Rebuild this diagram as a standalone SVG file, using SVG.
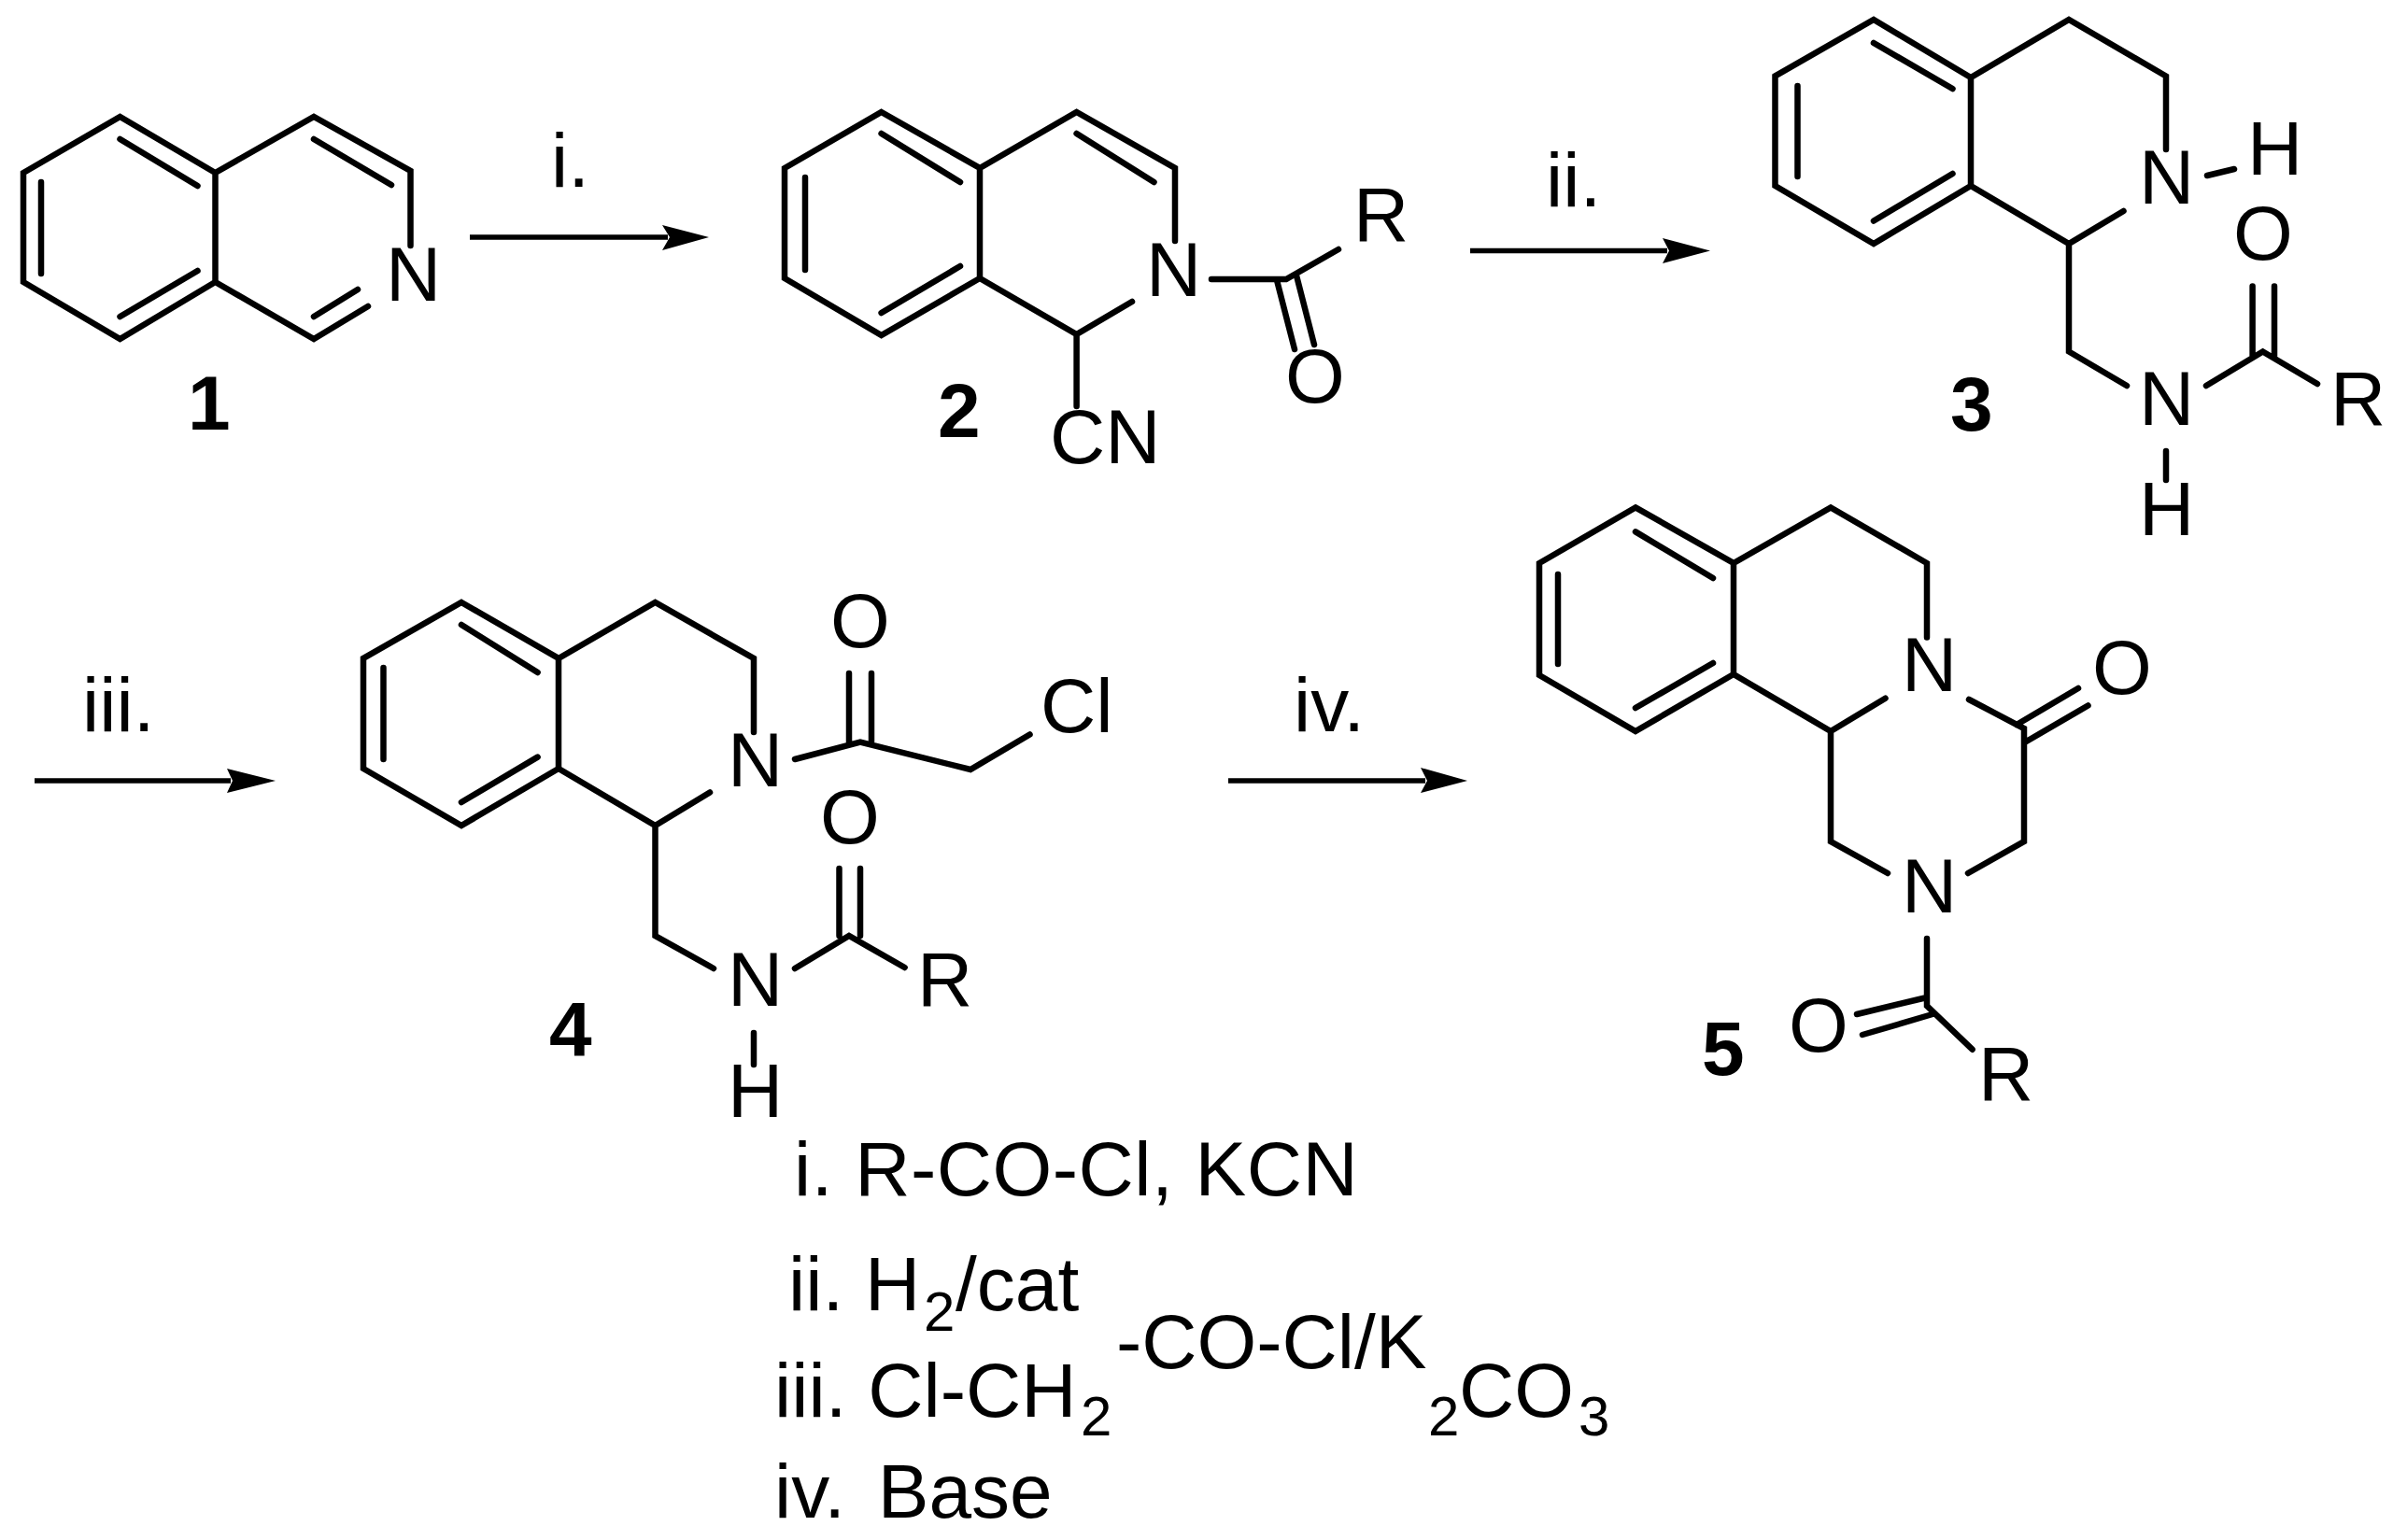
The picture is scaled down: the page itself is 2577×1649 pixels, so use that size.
<svg xmlns="http://www.w3.org/2000/svg" width="2577" height="1649" viewBox="0 0 2577 1649">
<style>
.b{fill:none;stroke:#000;stroke-width:6.500;stroke-linecap:round;stroke-linejoin:miter}
.a{fill:none;stroke:#000;stroke-width:5.500}
.h{fill:#000}
text{font-family:"Liberation Sans",Arial,sans-serif;fill:#000;font-size:82px}
.n{font-weight:bold}
.s{font-size:60px}
</style>
<rect width="2577" height="1649" fill="#fff"/>
<g id="connectors">
<path class="a" d="M503 254H715"/><polygon class="h" points="759,254 709,241 717,254 709,268"/>
<path class="a" d="M1574 268.500H1785"/><polygon class="h" points="1831,268.500 1780,255 1787,268.500 1780,282"/>
<path class="a" d="M37 836H247"/><polygon class="h" points="295,836 243,823 249,836 243,849"/>
<path class="a" d="M1315 836H1526"/><polygon class="h" points="1571,836 1521,822 1528,836 1521,849"/>
<text x="590" y="200">i.</text>
<text x="1655" y="221">ii.</text>
<text x="88" y="783">iii.</text>
<text x="1385" y="783">iv.</text>
</g>
<g id="compound-1">
<path class="b" d="M128.500 125L230.500 185V302L128.500 363L25 302V185ZM230.500 185L336 125L439.500 183V263M230.500 302L336 363L394 328M128.500 149L211.500 199M44 195V293M211.500 290L128.500 339M336 149L419 198M383 310L336 339"/>
<text x="413" y="322">N</text>
<text class="n" x="201" y="460">1</text>
</g>
<g id="compound-2">
<path class="b" d="M943.600 120L1049 180V298L943.600 359L840 298V180ZM1049 180L1152.600 120L1258 180V258M1049 298L1152.600 358L1212 323M1152.600 358V435M943.600 143L1028 195M862 190V289M1028 285L943.600 335M1152.600 143L1235.500 195M1297 299H1377L1433 267M1367 300L1386 374M1388 295L1407 369"/>
<text x="1227" y="317">N</text>
<text x="1124" y="496">CN</text>
<text x="1449" y="258">R</text>
<text x="1376" y="431">O</text>
<text class="n" x="1004" y="468">2</text>
</g>
<g id="compound-3">
<path class="b" d="M2006 21L2110 83V199L2006 261L1900.500 199V81.500ZM2110 83L2215 21L2319 81.500V160M2110 199L2215 261L2273.500 226M2215 261V376.500L2277 413M2362 413L2422.600 376.500L2481 411M2411.600 306.500V381M2435 306.500V381M2363 188L2392 181M2319 483V514M2006 46L2090.500 95M1924.500 92V189M2090.500 186L2006 236.500"/>
<text x="2290" y="218">N</text>
<text x="2406" y="187">H</text>
<text x="2290" y="455">N</text>
<text x="2495" y="455">R</text>
<text x="2391" y="278">O</text>
<text x="2290" y="573">H</text>
<text class="n" x="2088" y="461">3</text>
</g>
<g id="compound-4">
<path class="b" d="M494 645L598 705V823L494 884L389 823V705ZM598 705L701.500 645L807 705V784M598 823L701.500 884L760 848.500M701.500 884V1002L764 1037M851 1037L909 1002L968.600 1036M898.500 930V1002M921 930V1002M807 1106V1140M851 813L921 794.500L1039 824L1102.500 786.500M909 721V794.500M933 721V794.500M494 669L575.600 720M410.500 715V813M575.600 810.600L494 859"/>
<text x="779" y="842">N</text>
<text x="779" y="1077">N</text>
<text x="982" y="1077">R</text>
<text x="878" y="903">O</text>
<text x="889" y="693">O</text>
<text x="1114" y="784">Cl</text>
<text x="779" y="1196">H</text>
<text class="n" x="588" y="1130">4</text>
</g>
<g id="compound-5">
<path class="b" d="M1751 543.400L1856 603V722L1751 783L1648 723V603ZM1856 603L1960 543.400L2063 603V682.600M1856 722L1960 783L2018.500 747.700M2108 749L2167 780V901L2107 935M1960 783V901L2021 935M2159 776L2225 737M2168.500 794.500L2235.500 755.500M2063 1005V1077L2111.600 1123.700M2063 1068L1988 1086M2069 1086L1994 1108M1751 569.400L1834 619M1668 615V711M1834 710L1751 758"/>
<text x="2036" y="740">N</text>
<text x="2036" y="977">N</text>
<text x="2118" y="1178">R</text>
<text x="2240" y="743">O</text>
<text x="1915" y="1126">O</text>
<text class="n" x="1822" y="1151">5</text>
</g>
<g id="conditions">
<text x="850" y="1280" letter-spacing="0.500">i. R-CO-Cl, KCN</text>
<text x="844" y="1403">ii. H</text>
<text class="s" x="989" y="1425">2</text>
<text x="1023" y="1403">/cat</text>
<text x="829" y="1517">iii. Cl-CH</text>
<text class="s" x="1157" y="1537">2</text>
<text x="1195" y="1465">-CO-Cl/K</text>
<text class="s" x="1529" y="1537">2</text>
<text x="1562" y="1517">CO</text>
<text class="s" x="1690" y="1537">3</text>
<text x="829" y="1625" word-spacing="12">iv. Base</text>
</g>
</svg>
